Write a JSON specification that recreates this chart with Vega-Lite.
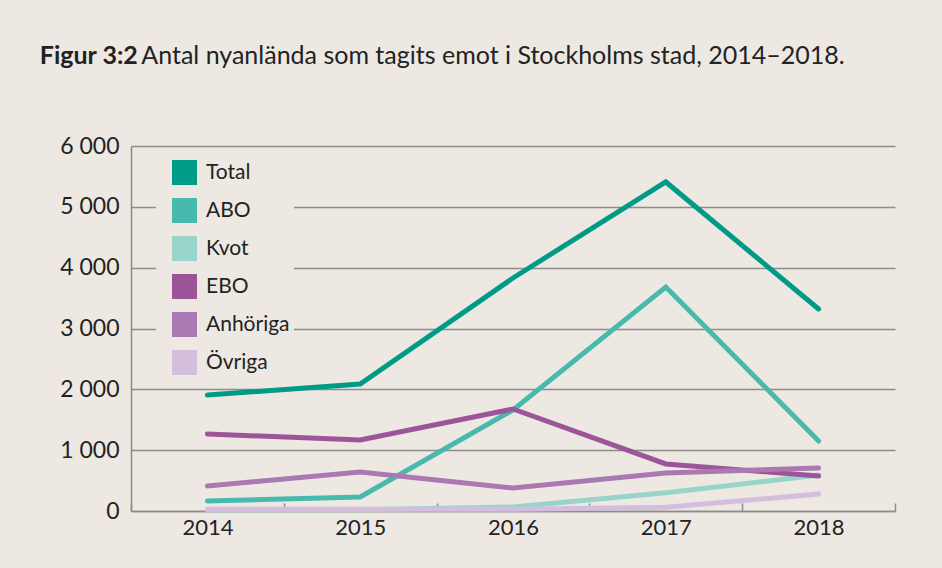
{
  "$schema": "https://vega.github.io/schema/vega-lite/v6.json",
  "width": 764,
  "height": 365,
  "autosize": {"type": "none"},
  "padding": {"left": 131, "top": 146, "right": 47, "bottom": 57},
  "background": "#ede9e2",
  "title": {
    "text": "Figur 3:2",
    "subtitle": "\u200b\u2003\u2003\u2003\u2003\u2003\u2009\u2009\u200aAntal nyanlända som tagits emot i Stockholms stad, 2014–2018.",
    "anchor": "start",
    "frame": "bounds",
    "dx": -20,
    "font": "Lato",
    "fontSize": 25,
    "fontWeight": "bold",
    "color": "#222222",
    "subtitleFont": "Lato",
    "subtitleFontSize": 25,
    "subtitleFontWeight": "normal",
    "subtitleColor": "#222222",
    "subtitlePadding": -25,
    "offset": 66
  },
  "data": {
    "values": [
      {"year": "2014", "serie": "Total", "antal": 1907},
      {"year": "2015", "serie": "Total", "antal": 2088},
      {"year": "2016", "serie": "Total", "antal": 3830},
      {"year": "2017", "serie": "Total", "antal": 5409},
      {"year": "2018", "serie": "Total", "antal": 3321},
      {"year": "2014", "serie": "ABO", "antal": 164},
      {"year": "2015", "serie": "ABO", "antal": 230},
      {"year": "2016", "serie": "ABO", "antal": 1660},
      {"year": "2017", "serie": "ABO", "antal": 3682},
      {"year": "2018", "serie": "ABO", "antal": 1151},
      {"year": "2014", "serie": "Kvot", "antal": 20},
      {"year": "2015", "serie": "Kvot", "antal": 20},
      {"year": "2016", "serie": "Kvot", "antal": 65},
      {"year": "2017", "serie": "Kvot", "antal": 300},
      {"year": "2018", "serie": "Kvot", "antal": 590},
      {"year": "2014", "serie": "EBO", "antal": 1266},
      {"year": "2015", "serie": "EBO", "antal": 1167},
      {"year": "2016", "serie": "EBO", "antal": 1677},
      {"year": "2017", "serie": "EBO", "antal": 773},
      {"year": "2018", "serie": "EBO", "antal": 575},
      {"year": "2014", "serie": "Anhöriga", "antal": 411},
      {"year": "2015", "serie": "Anhöriga", "antal": 641},
      {"year": "2016", "serie": "Anhöriga", "antal": 378},
      {"year": "2017", "serie": "Anhöriga", "antal": 625},
      {"year": "2018", "serie": "Anhöriga", "antal": 707},
      {"year": "2014", "serie": "Övriga", "antal": 30},
      {"year": "2015", "serie": "Övriga", "antal": 30},
      {"year": "2016", "serie": "Övriga", "antal": 30},
      {"year": "2017", "serie": "Övriga", "antal": 60},
      {"year": "2018", "serie": "Övriga", "antal": 280}
    ]
  },
  "mark": {"type": "line", "strokeWidth": 5, "strokeCap": "round", "strokeJoin": "miter"},
  "encoding": {
    "x": {
      "field": "year",
      "type": "ordinal",
      "bandPosition": 0.5,
      "scale": {"type": "band", "paddingInner": 0, "paddingOuter": 0},
      "axis": {
        "title": null,
        "labelAngle": 0,
        "tickBand": "extent",
        "tickSize": -8,
        "tickColor": "#8c8c8c",
        "tickWidth": 1.5,
        "domainColor": "#8c8c8c",
        "domainWidth": 1.5,
        "labelFont": "Lato",
        "labelFontSize": 22,
        "labelColor": "#222222",
        "labelPadding": 14,
        "grid": false
      }
    },
    "y": {
      "field": "antal",
      "type": "quantitative",
      "scale": {"domain": [0, 6000], "nice": false},
      "axis": {
        "title": null,
        "values": [0, 1000, 2000, 3000, 4000, 5000, 6000],
        "labelExpr": "replace(format(datum.value, ','), ',', ' ')",
        "ticks": false,
        "domainColor": "#8c8c8c",
        "domainWidth": 1.5,
        "gridColor": "#8c8c8c",
        "gridWidth": 1.5,
        "labelFont": "Lato",
        "labelFontSize": 23,
        "labelColor": "#222222",
        "labelPadding": 12
      }
    },
    "color": {
      "field": "serie",
      "type": "nominal",
      "scale": {
        "domain": ["Total", "ABO", "Kvot", "EBO", "Anhöriga", "Övriga"],
        "range": ["#009b87", "#48b9ad", "#98d4ca", "#9c5599", "#ab79b1", "#d4bedd"]
      },
      "legend": {
        "title": null,
        "orient": "none",
        "legendX": 25,
        "legendY": 10,
        "fillColor": "#ede9e2",
        "padding": 4,
        "symbolType": "square",
        "symbolSize": 625,
        "symbolOffset": 12,
        "symbolStrokeWidth": 0,
        "labelFont": "Lato",
        "labelFontSize": 21,
        "labelColor": "#222222",
        "labelOffset": 9,
        "rowPadding": 13,
        "labelLimit": 200,
        "encode": {
          "symbols": {
            "update": {
              "fill": {"scale": "color", "field": "value"},
              "fillOpacity": {"value": 1},
              "strokeWidth": {"value": 0}
            }
          }
        }
      }
    }
  },
  "config": {
    "view": {"stroke": null},
    "font": "Lato"
  }
}
